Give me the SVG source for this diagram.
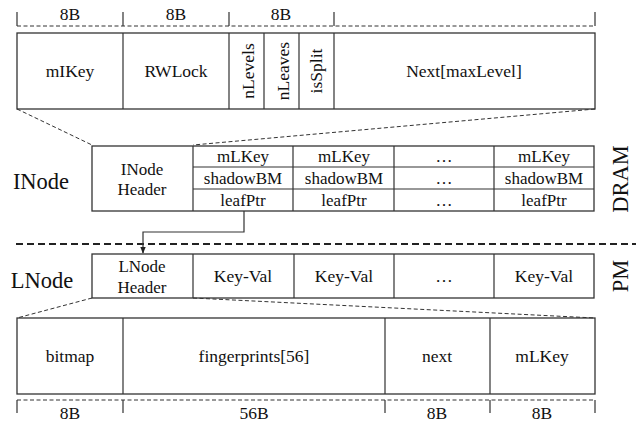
<svg xmlns="http://www.w3.org/2000/svg" width="636" height="425" viewBox="0 0 636 425">
<style>
.box{fill:#fff;stroke:#333;stroke-width:1.3}
.ln{stroke:#333;stroke-width:1.2;fill:none}
.dash{stroke:#333;stroke-width:1;stroke-dasharray:4 2.5;fill:none}
.sep{stroke:#222;stroke-width:2;stroke-dasharray:7 4;fill:none}
text{fill:#111;text-anchor:middle}
.t17{font-size:17.5px}
.t15{font-size:17px}
.big{font-size:22.5px}
</style>
<defs>
<marker id="arr" viewBox="0 0 10 10" refX="9" refY="5" markerWidth="7" markerHeight="7" orient="auto" markerUnits="userSpaceOnUse">
<path d="M0,1 L10,5 L0,9 z" fill="#222"/>
</marker>
</defs>
<g font-family="'Liberation Serif', Tinos, 'DejaVu Serif', serif">
<g id="top-sizes">
<path class="dash" d="M17,26 H595"/>
<path class="ln" d="M17,12 V26 M123,12 V26 M229,12 V26 M334,12 V26 M595,12 V26"/>
<text class="t17" x="70" y="20">8B</text>
<text class="t17" x="176" y="20">8B</text>
<text class="t17" x="281" y="20">8B</text>
</g>

<g id="inode-header-struct">
<rect class="box" x="17" y="33" width="578" height="76"/>
<path class="ln" d="M123,33 V109 M229,33 V109 M264,33 V109 M299,33 V109 M334,33 V109"/>
<text class="t17" x="70" y="77">mIKey</text>
<text class="t17" x="176" y="77">RWLock</text>
<text class="t17" transform="translate(254,71) rotate(-90)">nLevels</text>
<text class="t17" transform="translate(289,71) rotate(-90)">nLeaves</text>
<text class="t17" transform="translate(322,71) rotate(-90)">isSplit</text>
<text class="t17" x="464" y="77">Next[maxLevel]</text>
</g>

<g id="inode">
<text class="big" x="41" y="189">INode</text>
<rect class="box" x="92" y="146" width="502" height="65"/>
<path class="ln" d="M193,146 V211 M293,146 V211 M394,146 V211 M494,146 V211 M193,167 H594 M193,189 H594"/>
<text class="t15" x="142" y="175">INode</text>
<text class="t15" x="142" y="195">Header</text>
<text class="t15" x="243" y="162">mLKey</text>
<text class="t15" x="243" y="184">shadowBM</text>
<text class="t15" x="243" y="206">leafPtr</text>
<text class="t15" x="344" y="162">mLKey</text>
<text class="t15" x="344" y="184">shadowBM</text>
<text class="t15" x="344" y="206">leafPtr</text>
<text class="t15" x="444" y="162">…</text>
<text class="t15" x="444" y="184">…</text>
<text class="t15" x="444" y="206">…</text>
<text class="t15" x="544" y="162">mLKey</text>
<text class="t15" x="544" y="184">shadowBM</text>
<text class="t15" x="544" y="206">leafPtr</text>
<text class="big" transform="translate(628,179) rotate(-90)">DRAM</text>
</g>

<g id="separator">
<path class="sep" d="M16,244 H636"/>
</g>

<g id="lnode">
<text class="big" x="42" y="288">LNode</text>
<rect class="box" x="92" y="254" width="502" height="44"/>
<path class="ln" d="M193,254 V298 M294,254 V298 M394,254 V298 M494,254 V298"/>
<text class="t15" x="142" y="272">LNode</text>
<text class="t15" x="142" y="293">Header</text>
<text class="t17" x="243" y="282">Key-Val</text>
<text class="t17" x="344" y="282">Key-Val</text>
<text class="t17" x="444" y="282">…</text>
<text class="t17" x="544" y="282">Key-Val</text>
<text class="big" transform="translate(628,276) rotate(-90)">PM</text>
</g>

<g id="lnode-header-struct">
<rect class="box" x="17" y="318" width="578" height="76"/>
<path class="ln" d="M123,318 V394 M385,318 V394 M490,318 V394"/>
<text class="t17" x="70" y="362">bitmap</text>
<text class="t17" x="254" y="362">fingerprints[56]</text>
<text class="t17" x="437" y="362">next</text>
<text class="t17" x="542" y="362">mLKey</text>
</g>

<g id="bottom-sizes">
<path class="dash" d="M17,400 H595"/>
<path class="ln" d="M17,400 V413 M123,400 V413 M385,400 V413 M490,400 V413 M595,400 V413"/>
<text class="t17" x="70" y="419">8B</text>
<text class="t17" x="254" y="419">56B</text>
<text class="t17" x="437" y="419">8B</text>
<text class="t17" x="542" y="419">8B</text>
</g>
</g>
<g id="connectors">
<path class="dash" d="M17,109 L92,145"/>
<path class="dash" d="M595,109 L193,145"/>
<path class="dash" d="M92,298 L17,318"/>
<path class="dash" d="M193,298 L595,318"/>
<path class="ln" d="M244,211 V232 H143 V253" marker-end="url(#arr)"/>
</g>
</svg>
